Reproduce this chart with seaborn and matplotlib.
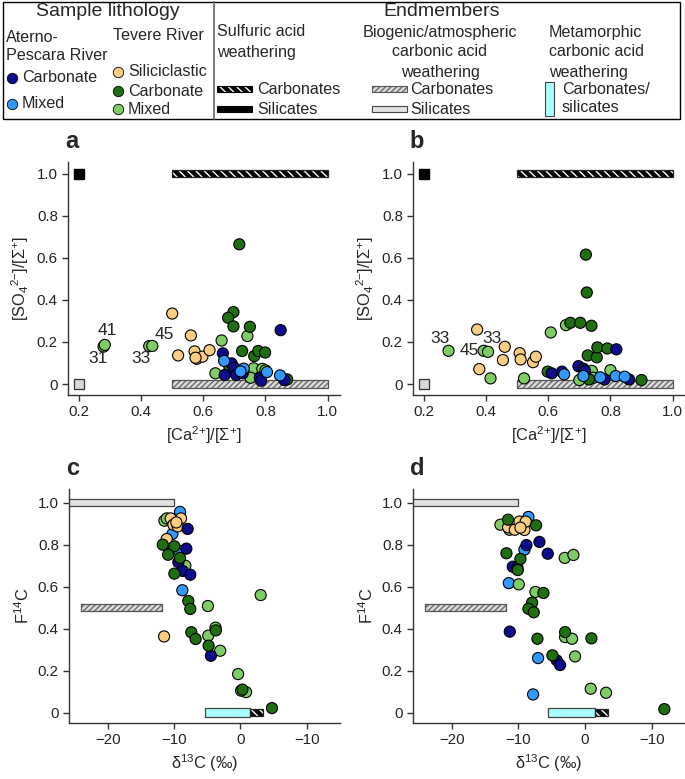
import matplotlib
matplotlib.use("Agg")
import matplotlib.pyplot as plt
from matplotlib.lines import Line2D
from matplotlib.patches import Rectangle
import seaborn as sns
import pandas as pd

# ---------------- data ----------------
groups = ["AC", "AM", "TS", "TC", "TM"]
group_colors = {"AC": "#0c0c8c", "AM": "#3399ff", "TS": "#f9cd82",
                "TC": "#1f6e12", "TM": "#7fcc66"}

# panel a : [Ca2+]/[Σ+] vs [SO4 2-]/[Σ+]
a_x = [0.279, 0.283, 0.426, 0.436, 0.659, 0.742, 0.639, 0.762, 0.790, 0.752, 0.800,
       0.500, 0.519, 0.560, 0.572, 0.579, 0.597, 0.620, 0.575,
       0.716, 0.697, 0.680, 0.697, 0.750, 0.725, 0.764, 0.777, 0.799, 0.684, 0.870, 0.700,
       0.849, 0.663, 0.691, 0.700, 0.669, 0.706, 0.727, 0.782, 0.786, 0.861,
       0.667, 0.730, 0.805, 0.847, 0.720]
a_y = [0.178, 0.186, 0.180, 0.181, 0.207, 0.228, 0.051, 0.075, 0.072, 0.030, 0.065,
       0.335, 0.136, 0.231, 0.155, 0.120, 0.130, 0.161, 0.125,
       0.664, 0.342, 0.315, 0.274, 0.272, 0.157, 0.133, 0.157, 0.150, 0.082, 0.022, 0.060,
       0.256, 0.146, 0.098, 0.077, 0.043, 0.043, 0.051, 0.030, 0.016, 0.019,
       0.110, 0.073, 0.057, 0.041, 0.060]
a_g = (["TM"] * 11 + ["TS"] * 8 + ["TC"] * 12 + ["AC"] * 10 + ["AM"] * 5)
a_labels = ["41", "31", "45", "33"]
a_label_x = [0.290, 0.262, 0.473, 0.398]
a_label_y = [0.256, 0.120, 0.237, 0.120]

# panel b
b_x = [0.279, 0.392, 0.406, 0.414, 0.522, 0.608, 0.657, 0.740, 0.700, 0.800, 0.745,
       0.371, 0.378, 0.460, 0.454, 0.508, 0.511, 0.551, 0.560,
       0.598, 0.671, 0.703, 0.739, 0.721, 0.724, 0.727, 0.756, 0.758, 0.790, 0.731, 0.900,
       0.611, 0.644, 0.697, 0.713, 0.718, 0.781, 0.860, 0.819,
       0.651, 0.713, 0.767, 0.817, 0.846]
b_y = [0.158, 0.158, 0.153, 0.027, 0.027, 0.245, 0.280, 0.063, 0.019, 0.066, 0.030,
       0.259, 0.071, 0.177, 0.114, 0.147, 0.117, 0.104, 0.130,
       0.059, 0.291, 0.291, 0.277, 0.615, 0.435, 0.136, 0.127, 0.174, 0.169, 0.022, 0.019,
       0.051, 0.059, 0.085, 0.073, 0.063, 0.022, 0.022, 0.165,
       0.046, 0.038, 0.032, 0.038, 0.035]
b_g = (["TM"] * 11 + ["TS"] * 8 + ["TC"] * 12 + ["AC"] * 8 + ["AM"] * 5)
b_labels = ["33", "45", "33"]
b_label_x = [0.250, 0.347, 0.420]
b_label_y = [0.217, 0.161, 0.217]

# panel c : δ13C vs F14C
c_x = [-9.1, -10.25, -9.25, -8.75,
       -11.45, -11.1, -8.3, -4.9, 3.05, -3.75, -4.85, -3.05, -0.35, 0.85, 0.1,
       -10.5, -8.95, -10.1, -9.45, -9.65, -11.1, -11.5,
       -7.95, -10.75, -8.15, -9.35, -8.7, -7.55, -4.45,
       -11.7, -9.95, -10.9, -9.1, -9.95, -7.85, -7.55, -7.4, -6.75, -3.7, -4.8, 0.3, 4.75]
c_y = [0.956, 0.851, 0.771, 0.583,
       0.914, 0.925, 0.700, 0.508, 0.560, 0.405, 0.367, 0.295, 0.184, 0.098, 0.105,
       0.925, 0.925, 0.895, 0.887, 0.906, 0.827, 0.363,
       0.875, 0.779, 0.781, 0.717, 0.675, 0.657, 0.271,
       0.800, 0.792, 0.752, 0.737, 0.662, 0.532, 0.494, 0.383, 0.351, 0.392, 0.319, 0.110, 0.022]
c_g = (["AM"] * 4 + ["TM"] * 11 + ["TS"] * 7 + ["AC"] * 7 + ["TC"] * 13)

# panel d
d_x = [-8.5, -9.1, -11.45, -7.05, -7.8,
       -12.7, -11.35, -3.05, -1.75, -9.95, -7.45, -3.0, -1.95, -1.5, 0.85, 3.15,
       -11.55, -10.55, -9.85, -9.1, -8.9, -9.7,
       -6.85, -8.8, -5.6, -10.85, -10.15, -11.3, -4.25, -3.75,
       -11.55, -7.35, -11.8, -9.7, -10.1, -6.25, -7.95, -8.5, -7.7, -7.15, -3.0, 0.95, -4.9, 11.9]
d_y = [0.932, 0.776, 0.617, 0.260, 0.087,
       0.895, 0.871, 0.737, 0.751, 0.611, 0.575, 0.360, 0.352, 0.268, 0.114, 0.095,
       0.883, 0.871, 0.910, 0.870, 0.910, 0.881,
       0.813, 0.798, 0.757, 0.695, 0.692, 0.386, 0.249, 0.227,
       0.919, 0.892, 0.759, 0.732, 0.679, 0.570, 0.524, 0.495, 0.478, 0.352, 0.384, 0.354, 0.273, 0.017]
d_g = (["AM"] * 5 + ["TM"] * 11 + ["TS"] * 6 + ["AC"] * 8 + ["TC"] * 14)

# endmembers, panels a/b  (Ca ratio range, SO4 ratio)
ab_sulf_carb_x = [0.5, 1.0]
ab_sulf_carb_y = 1.0
ab_sulf_sil = (0.2, 1.0)
ab_bio_carb_x = [0.5, 1.0]
ab_bio_carb_y = 0.0
ab_bio_sil = (0.2, 0.0)

# endmembers, panels c/d  (δ13C range, F14C)
cd_bio_sil_x = [-27.0, -10.0]
cd_bio_sil_y = 1.0
cd_bio_carb_x = [-24.0, -11.8]
cd_bio_carb_y = 0.5
c_meta_x = [-5.3, 1.5]
d_meta_x = [-5.6, 1.5]
cd_meta_y = 0.0
cd_sulf_carb_x = [1.5, 3.4]
cd_sulf_carb_y = 0.0

# ---------------- style ----------------
sns.set_style("ticks")
plt.rcParams["font.family"] = ["Liberation Sans", "DejaVu Sans"]
plt.rcParams["mathtext.fontset"] = "custom"
plt.rcParams["mathtext.rm"] = "Liberation Sans"
plt.rcParams["mathtext.it"] = "Liberation Sans:italic"
plt.rcParams["mathtext.bf"] = "Liberation Sans:bold"
plt.rcParams["hatch.linewidth"] = 1.0
plt.rcParams["axes.linewidth"] = 1.0
plt.rcParams["axes.edgecolor"] = "#333333"

W, H = 685, 779
fig = plt.figure(figsize=(W / 100, H / 100), dpi=100)


def fx(px):
    return px / W


def fy(py):
    return 1 - py / H


def make_ax(left, top, right, bottom):
    return fig.add_axes([fx(left), fy(bottom), fx(right - left), (bottom - top) / H])


ax_a = make_ax(67.5, 162, 340, 395)
ax_b = make_ax(412.5, 162, 685, 395)
ax_c = make_ax(68.5, 489, 340, 723)
ax_d = make_ax(412.5, 489, 685, 723)


def hbar(ax, xr, y, h, kind):
    left, w = xr[0], xr[1] - xr[0]
    if kind == "black_hatch":
        ax.barh(y, w, left=left, height=h, color="black", edgecolor="white",
                hatch="\\\\\\\\", linewidth=0, zorder=2)
        ax.barh(y, w, left=left, height=h, fill=False, edgecolor="#222222",
                linewidth=0.9, zorder=2)
    elif kind == "gray_hatch":
        ax.barh(y, w, left=left, height=h, color="#dcdcdc", edgecolor="#6a6a6a",
                hatch="//////", linewidth=0, zorder=2)
        ax.barh(y, w, left=left, height=h, fill=False, edgecolor="#555555",
                linewidth=0.9, zorder=2)
    elif kind == "gray":
        ax.barh(y, w, left=left, height=h, color="#e2e2e2", edgecolor="#444444",
                linewidth=0.9, zorder=2)
    elif kind == "cyan":
        ax.barh(y, w, left=left, height=h, color="#aaffff", edgecolor="#444444",
                linewidth=0.9, zorder=2)


def scatter(ax, xs, ys, gs):
    df = pd.DataFrame({"x": xs, "y": ys, "g": gs})
    sns.scatterplot(data=df, x="x", y="y", hue="g", palette=group_colors,
                    s=64, edgecolor="black", linewidth=0.8, legend=False,
                    ax=ax, zorder=3)


def style_ax(ax, letter):
    sns.despine(ax=ax)
    ax.tick_params(direction="out", length=4, width=1, labelsize=10.8,
                   colors="#333333", labelcolor="#222222", pad=3)
    ax.text(-0.01, 1.04, letter, transform=ax.transAxes, fontsize=17,
            fontweight="bold", ha="left", va="bottom")


for ax, xs, ys, gs, labs, lx, ly, letter in [
        (ax_a, a_x, a_y, a_g, a_labels, a_label_x, a_label_y, "a"),
        (ax_b, b_x, b_y, b_g, b_labels, b_label_x, b_label_y, "b")]:
    hbar(ax, ab_sulf_carb_x, ab_sulf_carb_y, 0.034, "black_hatch")
    hbar(ax, ab_bio_carb_x, ab_bio_carb_y, 0.034, "gray_hatch")
    ax.plot([ab_sulf_sil[0]], [ab_sulf_sil[1]], marker="s", ms=6.5,
            color="black", mec="black", ls="none", zorder=3)
    ax.plot([ab_bio_sil[0]], [ab_bio_sil[1]], marker="s", ms=7,
            color="#d9d9d9", mec="#333333", mew=0.9, ls="none", zorder=3)
    scatter(ax, xs, ys, gs)
    for t, x, y in zip(labs, lx, ly):
        ax.text(x, y, t, fontsize=12.5, ha="center", va="center", zorder=4)
    ax.set_xlim(0.163, 1.04)
    ax.set_ylim(-0.052, 1.055)
    ax.set_xticks([0.2, 0.4, 0.6, 0.8, 1.0])
    ax.set_xticklabels(["0.2", "0.4", "0.6", "0.8", "1.0"])
    ax.set_yticks([0, 0.2, 0.4, 0.6, 0.8, 1.0])
    ax.set_yticklabels(["0", "0.2", "0.4", "0.6", "0.8", "1.0"])
    ax.set_xlabel(r"[Ca$^{2{+}}$]/[Σ$^{+}$]", fontsize=11.8, labelpad=4)
    ax.set_ylabel(r"[SO$_4$$^{2{-}}$]/[Σ$^{+}$]", fontsize=11.8, labelpad=4)
    style_ax(ax, letter)

for ax, xs, ys, gs, meta, letter in [
        (ax_c, c_x, c_y, c_g, c_meta_x, "c"),
        (ax_d, d_x, d_y, d_g, d_meta_x, "d")]:
    hbar(ax, cd_bio_sil_x, cd_bio_sil_y, 0.036, "gray")
    hbar(ax, cd_bio_carb_x, cd_bio_carb_y, 0.036, "gray_hatch")
    hbar(ax, meta, cd_meta_y, 0.044, "cyan")
    hbar(ax, cd_sulf_carb_x, cd_sulf_carb_y, 0.036, "black_hatch")
    scatter(ax, xs, ys, gs)
    ax.set_xlim(-25.9, 15)
    ax.set_ylim(-0.049, 1.065)
    ax.set_xticks([-20, -10, 0, 10])
    ax.set_xticklabels(["\u221220", "\u221210", "0", "\u221210"])
    ax.set_yticks([0, 0.2, 0.4, 0.6, 0.8, 1.0])
    ax.set_yticklabels(["0", "0.2", "0.4", "0.6", "0.8", "1.0"])
    ax.set_xlabel(r"δ$^{13}$C (‰)", fontsize=11.8, labelpad=4)
    ax.set_ylabel(r"F$^{14}$C", fontsize=11.8, labelpad=4)
    style_ax(ax, letter)

# ---------------- legend box ----------------
fig.add_artist(Rectangle((fx(3), fy(119)), fx(677), 117 / H, fill=False,
                         edgecolor="black", linewidth=1.0,
                         transform=fig.transFigure))
fig.add_artist(Line2D([fx(214), fx(214)], [fy(2), fy(119)], color="#666666",
                      linewidth=1.2, transform=fig.transFigure))

HF = 14
BF = 11.6
fig.text(fx(108), fy(12), "Sample lithology", fontsize=HF, ha="center", va="center")
fig.text(fx(442), fy(12), "Endmembers", fontsize=HF, ha="center", va="center")

fig.text(fx(6), fy(38), "Aterno-", fontsize=BF, ha="left", va="center")
fig.text(fx(6), fy(56), "Pescara River", fontsize=BF, ha="left", va="center")
fig.text(fx(113), fy(36), "Tevere River", fontsize=BF, ha="left", va="center")

legend_entries = [
    (12, 78, "AC", "Carbonate"),
    (12, 104, "AM", "Mixed"),
    (118, 72, "TS", "Siliciclastic"),
    (118, 91, "TC", "Carbonate"),
    (118, 109, "TM", "Mixed"),
]
for x, y, g, t in legend_entries:
    fig.add_artist(Line2D([fx(x)], [fy(y)], marker="o", ms=7.5, color=group_colors[g],
                          mec="black", mew=0.6, ls="none", transform=fig.transFigure))
    fig.text(fx(x + 10), fy(y), t, fontsize=BF, ha="left", va="center")

fig.text(fx(217), fy(32), "Sulfuric acid", fontsize=BF, ha="left", va="center")
fig.text(fx(217), fy(52), "weathering", fontsize=BF, ha="left", va="center")
fig.text(fx(440), fy(32), "Biogenic/atmospheric", fontsize=BF, ha="center", va="center")
fig.text(fx(440), fy(52), "carbonic acid", fontsize=BF, ha="center", va="center")
fig.text(fx(440), fy(72), "weathering", fontsize=BF, ha="center", va="center")
fig.text(fx(549), fy(32), "Metamorphic", fontsize=BF, ha="left", va="center")
fig.text(fx(549), fy(52), "carbonic acid", fontsize=BF, ha="left", va="center")
fig.text(fx(549), fy(72), "weathering", fontsize=BF, ha="left", va="center")


def leg_patch(x0, y0, w, h, kind):
    r = (fx(x0), fy(y0 + h))
    if kind == "black_hatch":
        fig.add_artist(Rectangle(r, w / W, h / H, facecolor="black", edgecolor="white",
                                 hatch="\\\\\\\\", linewidth=0, transform=fig.transFigure))
        fig.add_artist(Rectangle(r, w / W, h / H, fill=False, edgecolor="black",
                                 linewidth=0.8, transform=fig.transFigure))
    elif kind == "black":
        fig.add_artist(Rectangle(r, w / W, h / H, facecolor="black", edgecolor="black",
                                 linewidth=0.8, transform=fig.transFigure))
    elif kind == "gray_hatch":
        fig.add_artist(Rectangle(r, w / W, h / H, facecolor="#dcdcdc", edgecolor="#6a6a6a",
                                 hatch="//////", linewidth=0, transform=fig.transFigure))
        fig.add_artist(Rectangle(r, w / W, h / H, fill=False, edgecolor="#555555",
                                 linewidth=0.8, transform=fig.transFigure))
    elif kind == "gray":
        fig.add_artist(Rectangle(r, w / W, h / H, facecolor="#e2e2e2", edgecolor="#444444",
                                 linewidth=0.8, transform=fig.transFigure))
    elif kind == "cyan":
        fig.add_artist(Rectangle(r, w / W, h / H, facecolor="#aaffff", edgecolor="#444444",
                                 linewidth=0.8, transform=fig.transFigure))


leg_patch(217, 86, 35, 6, "black_hatch")
fig.text(fx(257), fy(89), "Carbonates", fontsize=BF, ha="left", va="center")
leg_patch(217, 106, 35, 6, "black")
fig.text(fx(257), fy(109), "Silicates", fontsize=BF, ha="left", va="center")

leg_patch(372, 86, 35, 6, "gray_hatch")
fig.text(fx(410), fy(89), "Carbonates", fontsize=BF, ha="left", va="center")
leg_patch(372, 106, 35, 6, "gray")
fig.text(fx(410), fy(109), "Silicates", fontsize=BF, ha="left", va="center")

leg_patch(545, 82, 9, 34, "cyan")
fig.text(fx(562), fy(89), "Carbonates/", fontsize=BF, ha="left", va="center")
fig.text(fx(562), fy(107), "silicates", fontsize=BF, ha="left", va="center")

fig.savefig("out.png", dpi=100)
